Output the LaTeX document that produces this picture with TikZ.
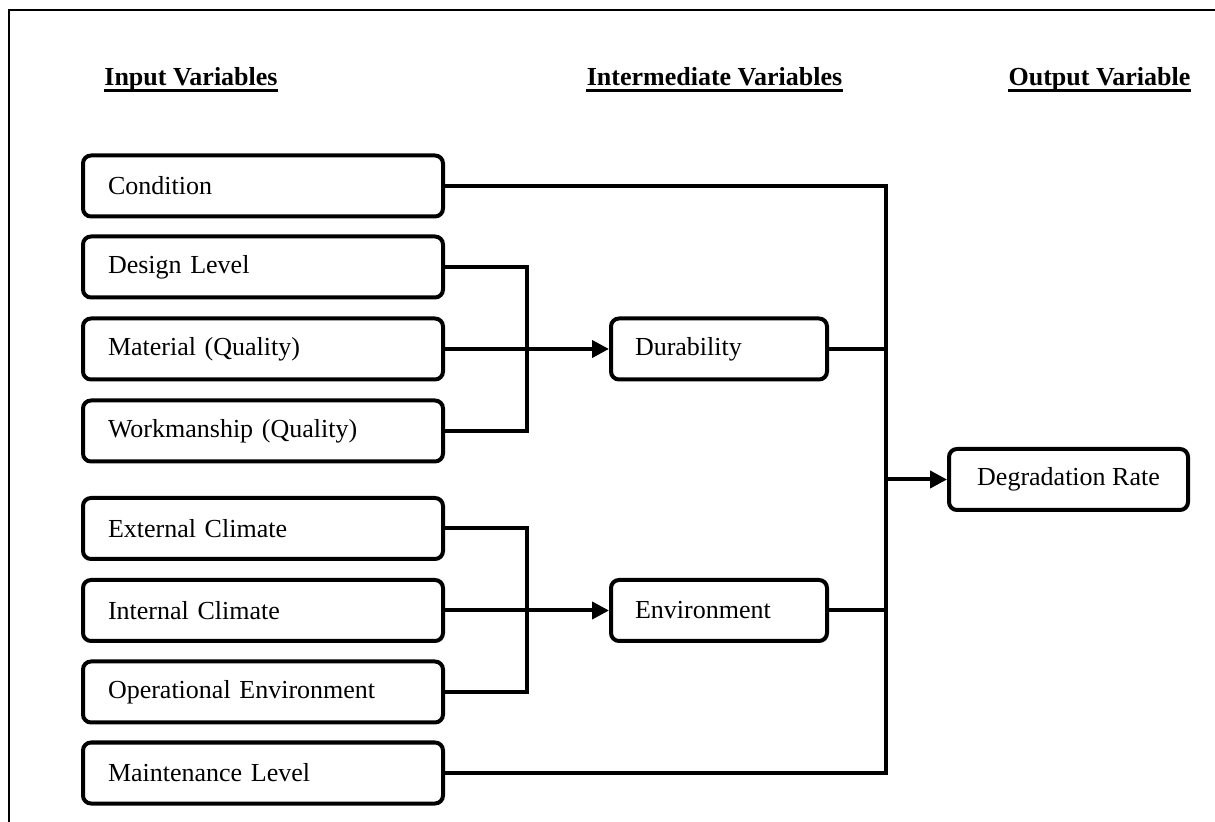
\documentclass[tikz,border=0pt]{standalone}
\usepackage{fontspec}
\setmainfont{Liberation Serif}
\usetikzlibrary{arrows.meta}
\begin{document}
\begin{tikzpicture}[x=0.5pt,y=-0.5pt,
  font=\fontsize{13pt}{15pt}\selectfont,
  inbox/.style={draw,line width=2pt,rounded corners=4pt,anchor=west,
    text width=155pt,inner xsep=12.5pt,align=left,minimum height=30.5pt},
  midbox/.style={draw,line width=2pt,rounded corners=4pt,anchor=west,
    text width=84pt,inner xsep=12pt,align=left,minimum height=30.5pt},
  outbox/.style={draw,line width=2pt,rounded corners=4pt,anchor=west,
    minimum width=119.5pt,minimum height=30.5pt,align=center},
  conn/.style={line width=2pt},
  arr/.style={line width=2pt,-{Triangle[length=8.5pt,width=8.5pt]}},
  head/.style={anchor=base,inner sep=0pt,font=\fontsize{13pt}{15pt}\selectfont\bfseries},
  uline/.style={line width=1.4pt}]
\useasboundingbox (0,0) rectangle (1215,822);
\draw[line width=1pt] (9,822) -- (9,10.5) -- (1215,10.5);

\node[head] (h1) at (191,86) {Input Variables};
\node[head] (h2) at (714.5,86) {Intermediate Variables};
\node[head] (h3) at (1099.5,86) {Output Variable};
\foreach \h in {h1,h2,h3}
  \draw[uline] ([yshift=-2.3pt]\h.base west) -- ([yshift=-2.3pt]\h.base east);

\node[inbox] (cond) at (81,186) {Condition};
\node[inbox] (des) at (81,267) {Design Level};
\node[inbox] (mat) at (81,349) {Material (Quality)};
\node[inbox] (wk) at (81,431) {Workmanship (Quality)};
\node[inbox] (ext) at (81,528.5) {External Climate};
\node[inbox] (int) at (81,610.5) {Internal Climate};
\node[inbox] (op) at (81,692) {Operational Environment};
\node[inbox] (mnt) at (81,773) {Maintenance Level};

\node[midbox] (dur) at (609,349) {Durability};
\node[midbox] (env) at (609,610.5) {Environment};
\node[outbox] (deg) at (947,479.5) {Degradation Rate};

\coordinate (jd) at (527,349);
\coordinate (je) at (527,610.5);
\coordinate (bx) at (886,479.5);

\draw[conn] (des.east) -| (jd) |- (wk.east);
\draw[arr] (mat.east) -- (dur.west);
\draw[conn] (ext.east) -| (je) |- (op.east);
\draw[arr] (int.east) -- (env.west);

\draw[conn] (cond.east) -| (bx) |- (mnt.east);
\draw[conn] (dur.east) -- (dur.east -| bx);
\draw[conn] (env.east) -- (env.east -| bx);
\draw[arr] (bx) -- (deg.west);
\end{tikzpicture}
\end{document}
